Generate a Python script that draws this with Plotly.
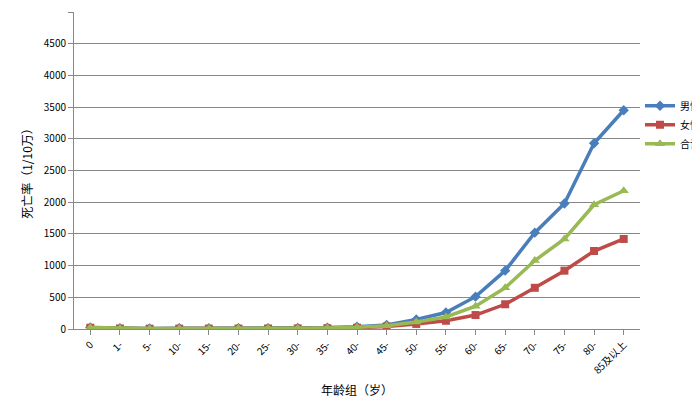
import plotly.graph_objects as go

ages = ['0', '1-', '5-', '10-', '15-', '20-', '25-', '30-', '35-', '40-', '45-',
        '50-', '55-', '60-', '65-', '70-', '75-', '80-', '85及以上']
male = [25, 12, 8, 12, 12, 14, 14, 16, 22, 35, 65, 150, 260, 510, 920, 1520, 1980, 2930, 3450]
female = [20, 8, 5, 6, 6, 7, 8, 9, 12, 20, 40, 80, 130, 220, 390, 650, 920, 1230, 1420]
total = [22, 10, 6, 9, 9, 10, 11, 12, 17, 28, 52, 110, 190, 360, 650, 1080, 1420, 1960, 2180]

fig = go.Figure()
fig.add_trace(go.Scatter(x=ages, y=male, name='男性', mode='lines+markers',
                         line=dict(color='#4a7ebb', width=3.5),
                         marker=dict(symbol='diamond', size=8)))
fig.add_trace(go.Scatter(x=ages, y=female, name='女性', mode='lines+markers',
                         line=dict(color='#be4b48', width=3.5),
                         marker=dict(symbol='square', size=8)))
fig.add_trace(go.Scatter(x=ages, y=total, name='合计', mode='lines+markers',
                         line=dict(color='#98b954', width=3.5),
                         marker=dict(symbol='triangle-up', size=9)))

fig.update_layout(
    width=700, height=405,
    paper_bgcolor='white', plot_bgcolor='white',
    font=dict(family='Noto Sans CJK SC', size=10, color='black'),
    margin=dict(l=66, r=68, t=4, b=84, autoexpand=False),
    legend=dict(x=1.0, y=0.75, xanchor='left', yanchor='top',
                font=dict(size=10), tracegroupgap=2),
    xaxis=dict(title=dict(text='年龄组（岁）', standoff=10), tickangle=-45,
               showgrid=False, showline=True, linecolor='#888', ticks='outside',
               tickcolor='#888', range=[-0.55, 18.55]),
    yaxis=dict(title=dict(text='死亡率（1/10万）', standoff=8), range=[0, 5000], dtick=500,
               showgrid=True, gridcolor='#888', showline=True, linecolor='#888',
               ticks='outside', tickcolor='#888', zeroline=False),
)

fig.write_html("out.html")
